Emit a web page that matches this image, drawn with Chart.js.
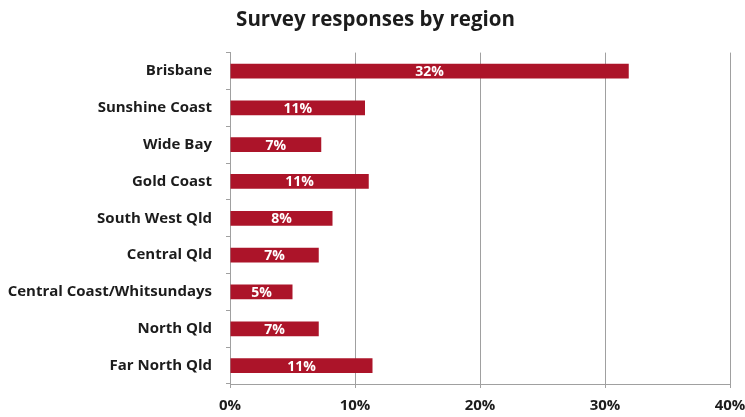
<!DOCTYPE html>
<html>
<head>
<meta charset="utf-8">
<title>Survey responses by region</title>
<script src="https://cdn.jsdelivr.net/npm/chart.js@4/dist/chart.umd.min.js"></script>
<style>
  html, body { margin: 0; padding: 0; background: #ffffff; }
  #wrap { width: 745px; height: 417px; position: relative; }
</style>
</head>
<body>
<div id="wrap"><canvas id="chart" width="745" height="417"></canvas></div>
<script>
// Regions surveyed, top to bottom
const regions = [
  'Brisbane',
  'Sunshine Coast',
  'Wide Bay',
  'Gold Coast',
  'South West Qld',
  'Central Qld',
  'Central Coast/Whitsundays',
  'North Qld',
  'Far North Qld'
];

// Share of responses per region (%)
const shares = [31.9, 10.8, 7.3, 11.1, 8.2, 7.1, 5.0, 7.1, 11.4];

// Horizontal axis ticks (%)
const axisTicks = [0, 10, 20, 30, 40];

const FONT = '"Open Sans", "DejaVu Sans", sans-serif';
const BAR_RED = '#ac1429';
const INK = '#1c1c1c';
const GRID = '#a0a0a0';

// Writes the rounded percentage in the middle of each bar
const barValueLabels = {
  id: 'barValueLabels',
  afterDatasetsDraw(chart) {
    const ctx = chart.ctx;
    const meta = chart.getDatasetMeta(0);
    ctx.save();
    ctx.font = 'bold 14px ' + FONT;
    ctx.fillStyle = '#ffffff';
    ctx.textAlign = 'center';
    ctx.textBaseline = 'middle';
    meta.data.forEach((bar, i) => {
      const v = chart.data.datasets[0].data[i];
      const cx = (bar.x + bar.base) / 2;
      ctx.fillText(Math.round(v) + '%', cx, bar.y + 1);
    });
    ctx.restore();
  }
};

new Chart(document.getElementById('chart'), {
  type: 'bar',
  data: {
    labels: regions,
    datasets: [{
      data: shares,
      backgroundColor: BAR_RED,
      borderWidth: 0,
      categoryPercentage: 1.0,
      barPercentage: 0.4
    }]
  },
  options: {
    indexAxis: 'y',
    responsive: false,
    animation: false,
    layout: { padding: { left: 6, right: 0, top: 0, bottom: 0 } },
    plugins: {
      legend: { display: false },
      tooltip: { enabled: false },
      title: {
        display: true,
        text: 'Survey responses by region',
        color: INK,
        font: { family: FONT, size: 20.5, weight: 'bold' },
        padding: { top: 8, bottom: 20 }
      }
    },
    scales: {
      x: {
        min: 0,
        max: 40,
        afterBuildTicks(scale) {
          scale.ticks = axisTicks.map(v => ({ value: v }));
        },
        afterFit(scale) {
          scale.height = 33;
          scale.paddingLeft = 0;
          scale.paddingRight = 15;
        },
        ticks: {
          color: INK,
          font: { family: FONT, size: 15, weight: 'bold' },
          padding: 9,
          maxRotation: 0,
          callback: v => v + '%'
        },
        grid: {
          color: GRID,
          lineWidth: 1,
          tickLength: 4,
          drawTicks: true
        },
        border: { display: true, color: GRID, width: 1 }
      },
      y: {
        afterFit(scale) { scale.width = 224; },
        ticks: {
          color: INK,
          font: { family: FONT, size: 15, weight: 'bold' },
          padding: 14
        },
        grid: {
          drawOnChartArea: false,
          drawTicks: true,
          tickLength: 4,
          color: GRID
        },
        border: { display: true, color: GRID, width: 1 }
      }
    }
  },
  plugins: [barValueLabels]
});
</script>
</body>
</html>
